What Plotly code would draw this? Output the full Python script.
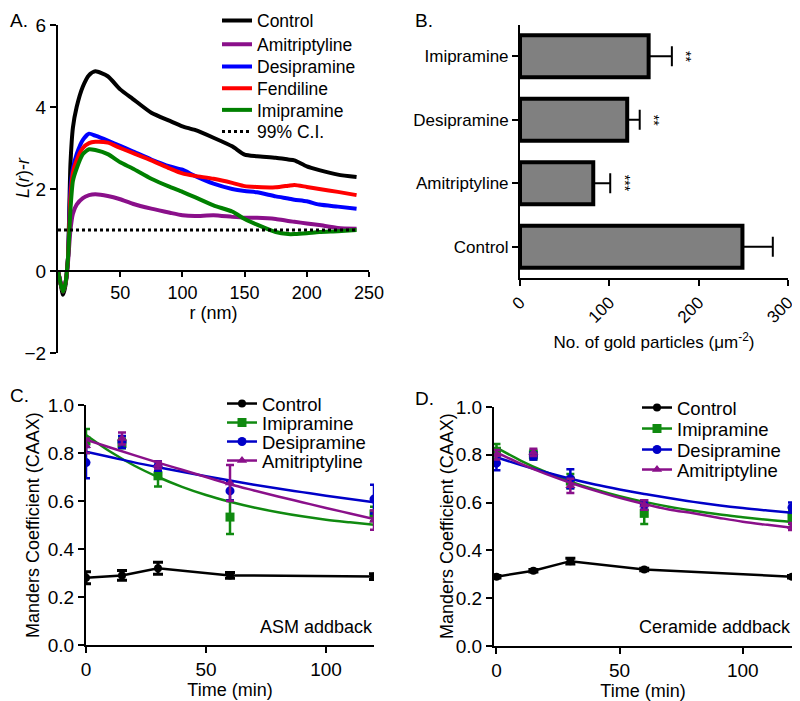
import plotly.graph_objects as go

# ---- Panel A: Ripley's K function, L(r)-r vs r ----
r_nm = [0, 2, 4, 6, 8, 10, 12, 15, 20, 25, 30, 40, 50, 60, 75, 90, 100, 110,
        125, 140, 150, 160, 175, 185, 190, 200, 210, 225, 240]
k_control = [0, -0.3, -0.58, -0.35, 0.3, 2.6, 3.5, 4.0, 4.5, 4.78, 4.87, 4.75, 4.43, 4.2,
             3.86, 3.66, 3.53, 3.44, 3.25, 3.04, 2.84, 2.8, 2.76, 2.72, 2.7, 2.55, 2.46, 2.35, 2.29]
k_amitriptyline = [0, -0.25, -0.45, -0.3, 0.2, 1.0, 1.4, 1.62, 1.78, 1.85, 1.87, 1.83, 1.75, 1.64,
                   1.52, 1.42, 1.36, 1.34, 1.36, 1.32, 1.3, 1.3, 1.27, 1.22, 1.2, 1.16, 1.12, 1.05, 1.03]
k_desipramine = [0, -0.3, -0.5, -0.3, 0.3, 2.0, 2.5, 2.85, 3.2, 3.35, 3.3, 3.18, 3.05, 2.92,
                 2.72, 2.55, 2.47, 2.32, 2.13, 2.0, 1.95, 1.92, 1.82, 1.77, 1.74, 1.7, 1.62, 1.57, 1.52]
k_fendiline = [0, -0.3, -0.5, -0.3, 0.3, 1.8, 2.4, 2.7, 3.0, 3.12, 3.15, 3.13, 3.0, 2.88,
               2.7, 2.5, 2.38, 2.32, 2.25, 2.15, 2.07, 2.05, 2.04, 2.08, 2.1, 2.05, 2.0, 1.93, 1.85]
k_imipramine = [0, -0.3, -0.5, -0.3, 0.3, 1.5, 2.2, 2.5, 2.85, 2.97, 2.95, 2.85, 2.65, 2.5,
                2.25, 2.05, 1.93, 1.8, 1.6, 1.45, 1.27, 1.13, 0.95, 0.9, 0.9, 0.92, 0.95, 0.97, 1.0]
ci_r = [0, 240]
ci_value = [1.0, 1.0]

# ---- Panel B: gold particle density ----
b_groups = ["Control", "Amitriptyline", "Desipramine", "Imipramine"]
b_values = [249, 82, 120, 144]
b_err = [34, 19, 14, 26]
b_stars = ["", "***", "**", "**"]

# ---- Panels C & D: Manders coefficient time courses ----
t_min = [0, 15, 30, 60, 120]
t_fit = [0, 10, 20, 30, 40, 50, 60, 70, 80, 90, 100, 110, 120]

c_control = [0.28, 0.29, 0.32, 0.29, 0.285]
c_control_err = [0.025, 0.02, 0.025, 0.012, 0.012]
c_imi = [0.85, 0.84, 0.705, 0.533, 0.546]
c_imi_err = [0.05, 0.02, 0.045, 0.07, 0.03]
c_desi = [0.76, 0.846, 0.746, 0.642, 0.608]
c_desi_err = [0.065, 0.025, 0.02, 0.04, 0.06]
c_ami = [0.83, 0.86, 0.75, 0.675, 0.52]
c_ami_err = [0.03, 0.025, 0.015, 0.075, 0.04]
c_imi_fit = [0.875, 0.806, 0.748, 0.70, 0.659, 0.625, 0.597, 0.573, 0.553, 0.536, 0.522, 0.511, 0.501]
c_desi_fit = [0.805, 0.783, 0.761, 0.741, 0.722, 0.703, 0.685, 0.668, 0.652, 0.637, 0.622, 0.608, 0.595]
c_ami_fit = [0.855, 0.823, 0.791, 0.76, 0.73, 0.70, 0.67, 0.644, 0.619, 0.595, 0.571, 0.548, 0.525]

d_control = [0.29, 0.315, 0.355, 0.32, 0.29]
d_control_err = [0.005, 0.005, 0.012, 0.005, 0.005]
d_imi = [0.815, 0.80, 0.69, 0.555, 0.54]
d_imi_err = [0.03, 0.02, 0.03, 0.045, 0.03]
d_desi = [0.765, 0.795, 0.70, 0.59, 0.58]
d_desi_err = [0.03, 0.015, 0.04, 0.02, 0.02]
d_ami = [0.80, 0.81, 0.67, 0.59, 0.50]
d_ami_err = [0.02, 0.015, 0.03, 0.02, 0.015]
d_imi_fit = [0.83, 0.775, 0.728, 0.688, 0.655, 0.627, 0.603, 0.583, 0.566, 0.551, 0.539, 0.528, 0.519]
d_desi_fit = [0.79, 0.757, 0.727, 0.70, 0.676, 0.655, 0.636, 0.619, 0.603, 0.589, 0.577, 0.567, 0.558]
d_ami_fit = [0.81, 0.762, 0.72, 0.683, 0.65, 0.62, 0.594, 0.571, 0.555, 0.537, 0.52, 0.507, 0.495]

FONT = "Arial, Liberation Sans, sans-serif"
BLACK, GREEN, BLUE, PURPLE, RED = "#000000", "#108a10", "#0000c8", "#8a108a", "#ff0000"

# the page body keeps an 8px margin, so the figure is sized to fill what is left
OFF = 8
W, H = 800 - OFF, 701 - OFF


def px(p):  # page pixel -> paper x
    return (p - OFF) / W


def py(p):  # page pixel -> paper y
    return 1 - (p - OFF) / H


fig = go.Figure()
legends = {}  # one legend per item so the row spacing can follow the reference


def new_legend(text_x, row_y, size):
    key = "legend" if not legends else "legend%d" % (len(legends) + 1)
    legends[key] = dict(x=px(text_x - 40), y=py(row_y), xanchor="left", yanchor="middle",
                        bgcolor="rgba(0,0,0,0)", borderwidth=0, font=dict(size=size, color=BLACK))
    return key


def label(text, x, y, size=18, angle=0, anchor="left"):
    fig.add_annotation(x=px(x), y=py(y), xref="paper", yref="paper", text=text, showarrow=False,
                       xanchor=anchor, yanchor="middle", textangle=angle,
                       font=dict(size=size, color=BLACK, family=FONT))


# Panel A curves
a_rows = [20.7, 44.3, 66.7, 88.3, 110, 131.7]
for i, (name, vals, col) in enumerate([("Control", k_control, BLACK), ("Amitriptyline", k_amitriptyline, PURPLE),
                                       ("Desipramine", k_desipramine, "#0000ff"), ("Fendiline", k_fendiline, RED),
                                       ("Imipramine", k_imipramine, "#008000")]):
    fig.add_trace(go.Scatter(x=r_nm, y=vals, mode="lines", name=name, xaxis="x", yaxis="y",
                             line=dict(color=col, width=4, shape="spline", smoothing=0.6),
                             legend=new_legend(257, a_rows[i], 17.5)))
fig.add_trace(go.Scatter(x=ci_r, y=ci_value, mode="lines", name="99% C.I.", xaxis="x", yaxis="y",
                         line=dict(color=BLACK, width=3, dash="dot"), legend=new_legend(257, a_rows[5], 17.5)))

# Panel B bars
fig.add_trace(go.Bar(x=b_values, y=b_groups, orientation="h", xaxis="x2", yaxis="y2", width=0.66,
                     marker=dict(color="#808080", line=dict(color=BLACK, width=4)),
                     error_x=dict(type="data", array=b_err, arrayminus=[0] * len(b_err), symmetric=False,
                                  color=BLACK, thickness=2, width=10),
                     showlegend=False))
for g, v, e, s in zip(b_groups, b_values, b_err, b_stars):
    if s:
        fig.add_annotation(x=v + e + 16, y=g, xref="x2", yref="y2", text=s, showarrow=False,
                           textangle=90, font=dict(size=14, color=BLACK, family=FONT))


def add_time_panel(xa, ya, text_x, leg_rows, ctrl, ctrl_err, series, fits):
    fig.add_trace(go.Scatter(x=t_min, y=ctrl, mode="lines+markers", name="Control", xaxis=xa, yaxis=ya,
                             line=dict(color=BLACK, width=2.5), marker=dict(color=BLACK, size=8),
                             error_y=dict(type="data", array=ctrl_err, color=BLACK, thickness=3, width=5),
                             legend=new_legend(text_x, leg_rows[0], 18.5)))
    for k, ((name, vals, err, col, sym), fit) in enumerate(zip(series, fits)):
        fig.add_trace(go.Scatter(x=t_fit, y=fit, mode="lines", xaxis=xa, yaxis=ya, showlegend=False,
                                 line=dict(color=col, width=2.5, shape="spline")))
        fig.add_trace(go.Scatter(x=t_min, y=vals, mode="markers", xaxis=xa, yaxis=ya, showlegend=False,
                                 marker=dict(color=col, size=9, symbol=sym),
                                 error_y=dict(type="data", array=err, color=col, thickness=2.5, width=4)))
        fig.add_trace(go.Scatter(x=[None], y=[None], mode="lines+markers", name=name, xaxis=xa, yaxis=ya,
                                 line=dict(color=col, width=2.5), marker=dict(color=col, size=9, symbol=sym),
                                 legend=new_legend(text_x, leg_rows[k + 1], 18.5)))


add_time_panel("x3", "y3", 262, [404, 423, 442, 461], c_control, c_control_err,
               [("Imipramine", c_imi, c_imi_err, GREEN, "square"),
                ("Desipramine", c_desi, c_desi_err, BLUE, "circle"),
                ("Amitriptyline", c_ami, c_ami_err, PURPLE, "triangle-up")],
               [c_imi_fit, c_desi_fit, c_ami_fit])
add_time_panel("x4", "y4", 677, [408, 429, 450, 470], d_control, d_control_err,
               [("Imipramine", d_imi, d_imi_err, GREEN, "square"),
                ("Desipramine", d_desi, d_desi_err, BLUE, "circle"),
                ("Amitriptyline", d_ami, d_ami_err, PURPLE, "triangle-up")],
               [d_imi_fit, d_desi_fit, d_ami_fit])

axis_style = dict(showline=True, linecolor=BLACK, linewidth=2, ticks="outside", ticklen=6, tickwidth=2,
                  tickcolor=BLACK, showgrid=False, zeroline=False, tickfont=dict(size=19, color=BLACK),
                  title_font=dict(size=18, color=BLACK))

fig.update_layout(
    width=W, height=H, margin=dict(l=0, r=0, t=0, b=0, autoexpand=False),
    paper_bgcolor="white", plot_bgcolor="white",
    font=dict(family=FONT, color=BLACK),
    xaxis=dict(axis_style, domain=[px(58), px(369)], range=[0, 250], tickvals=[50, 100, 150, 200, 250],
               anchor="free", position=py(271), ticklen=5, tickfont=dict(size=18, color=BLACK),
               title=dict(text="r (nm)", standoff=4)),
    yaxis=dict(axis_style, domain=[py(353), py(25)], range=[-2, 6], tickvals=[-2, 0, 2, 4, 6], anchor="x"),
    xaxis2=dict(axis_style, domain=[px(520), px(788)], range=[0, 300], tickvals=[0, 100, 200, 300],
                tickangle=-45, anchor="y2", tickfont=dict(size=17, color=BLACK),
                title=dict(text="No. of gold particles (\u03bcm<sup>-2</sup>)", font=dict(size=17), standoff=10)),
    yaxis2=dict(axis_style, domain=[py(278), py(25)], range=[-0.49, 3.49], anchor="x2",
                categoryorder="array", categoryarray=b_groups, tickfont=dict(size=17, color=BLACK)),
    xaxis3=dict(axis_style, domain=[px(86), px(374)], range=[0, 120], tickvals=[0, 50, 100], anchor="y3",
                title=dict(text="Time (min)", standoff=4)),
    yaxis3=dict(axis_style, domain=[py(645), py(405)], range=[0, 1.0], tickvals=[0, 0.2, 0.4, 0.6, 0.8, 1.0],
                tickformat=".1f", anchor="x3"),
    xaxis4=dict(axis_style, domain=[px(494), px(792)], range=[-1, 120], tickvals=[0, 50, 100], anchor="y4",
                title=dict(text="Time (min)", standoff=4)),
    yaxis4=dict(axis_style, domain=[py(646), py(407)], range=[0, 1.0], tickvals=[0, 0.2, 0.4, 0.6, 0.8, 1.0],
                tickformat=".1f", anchor="x4"),
    showlegend=True,
    **legends,
)

# panel letters, y-axis titles and panel notes
for txt, x, y in [("A.", 8, 20.5), ("B.", 413, 20.5), ("C.", 8, 395), ("D.", 413, 398)]:
    label(txt, x, y, size=19)
label("<i>L</i>(<i>r</i>)-<i>r</i>", 23, 178, angle=-90, anchor="center")
label("Manders Coefficient (CAAX)", 33, 525, angle=-90, anchor="center")
label("Manders Coefficient (CAAX)", 447, 526, angle=-90, anchor="center")
label("ASM addback", 375, 627, anchor="right")
label("Ceramide addback", 793, 627, anchor="right")

fig.write_html("out.html")
